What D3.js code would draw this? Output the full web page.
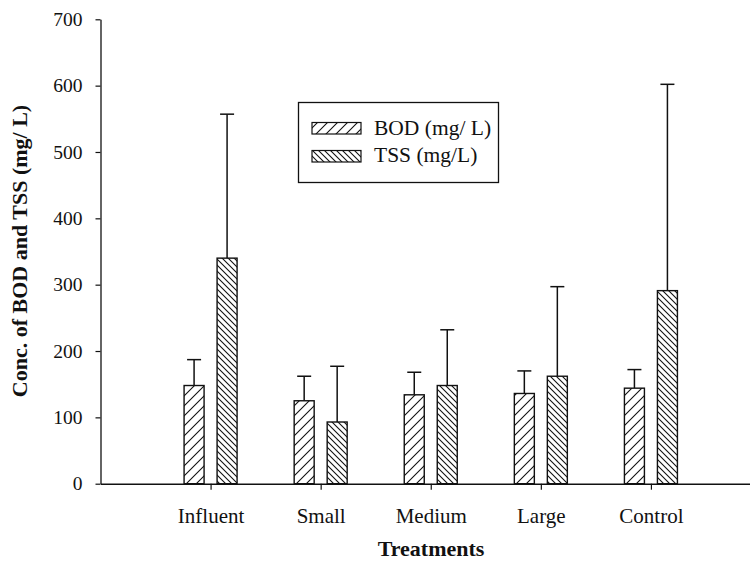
<!DOCTYPE html>
<html>
<head>
<meta charset="utf-8">
<script src="https://cdn.jsdelivr.net/npm/d3@7/dist/d3.min.js"></script>
<style>
  html, body { margin: 0; padding: 0; background: #fff; }
  svg { display: block; font-family: "Liberation Serif", "Times New Roman", serif; }
</style>
</head>
<body>
<svg id="chart" width="750" height="566"></svg>
<script>
// Treatments on the x axis
const categories = ["Influent", "Small", "Medium", "Large", "Control"];
// Mean concentrations (mg/L)
const bodMean = [148, 125, 134, 136, 144];
const tssMean = [340, 93, 148, 162, 291];
// Upper error bar extent (mean + SD), mg/L
const bodUpper = [187, 162, 168, 170, 172];
const tssUpper = [557, 177, 232, 297, 602];
// Y axis ticks
const yTicks = [0, 100, 200, 300, 400, 500, 600, 700];
const seriesNames = ["BOD (mg/ L)", "TSS (mg/L)"];

const svg = d3.select("#chart");
const ink = "#111";
const serif = "Liberation Serif, Times New Roman, serif";

// Hatch patterns: wide "/" for BOD, dense "\" for TSS
const defs = svg.append("defs");
const pBod = defs.append("pattern").attr("id", "hatchBod")
  .attr("patternUnits", "userSpaceOnUse").attr("width", 10).attr("height", 10);
pBod.append("path").attr("d", "M-1,11 L11,-1 M-6,6 L6,-6 M4,16 L16,4")
  .attr("stroke", ink).attr("stroke-width", 1.1);
const pTss = defs.append("pattern").attr("id", "hatchTss")
  .attr("patternUnits", "userSpaceOnUse").attr("width", 6).attr("height", 6);
pTss.append("path").attr("d", "M-1,-1 L7,7 M-4,2 L2,8 M4,-2 L10,4")
  .attr("stroke", ink).attr("stroke-width", 1.1);

// Scales
const y = d3.scaleLinear().domain([0, 700]).range([483.7, 19.3]);
const x = d3.scaleLinear().domain([0, 5.9]).range([100.5, 750]);
const barW = 20, half = 16.5;

// Y axis
const yAxis = d3.axisLeft(y).tickValues(yTicks).tickSize(5).tickPadding(13).tickSizeOuter(0);
const gy = svg.append("g").attr("transform", "translate(100.5,0)").call(yAxis);
gy.select(".domain").attr("stroke", ink).attr("stroke-width", 1.3);
gy.selectAll(".tick line").attr("stroke", ink).attr("stroke-width", 1.2);
gy.selectAll(".tick text").attr("font-size", 19.5).attr("fill", ink)
  .attr("font-family", serif);

// X axis
const xAxis = d3.axisBottom(x).tickValues(d3.range(1, 6))
  .tickFormat(i => categories[i - 1]).tickSize(6).tickPadding(18).tickSizeOuter(0);
const gx = svg.append("g").attr("transform", `translate(0,${y(0)})`).call(xAxis);
gx.select(".domain").attr("stroke", ink).attr("stroke-width", 1.6);
gx.selectAll(".tick line").attr("stroke", ink).attr("stroke-width", 1.2);
gx.selectAll(".tick text").attr("font-size", 21).attr("fill", ink)
  .attr("font-family", serif);

// Bars and error bars
const series = [
  { mean: bodMean, upper: bodUpper, offset: -half, fill: "url(#hatchBod)" },
  { mean: tssMean, upper: tssUpper, offset: half, fill: "url(#hatchTss)" }
];
series.forEach(s => {
  const g = svg.append("g");
  categories.forEach((c, i) => {
    const cx = x(i + 1) + s.offset;
    // whisker
    g.append("line").attr("x1", cx).attr("x2", cx)
      .attr("y1", y(s.mean[i])).attr("y2", y(s.upper[i]))
      .attr("stroke", ink).attr("stroke-width", 1.5);
    g.append("line").attr("x1", cx - 7).attr("x2", cx + 7)
      .attr("y1", y(s.upper[i])).attr("y2", y(s.upper[i]))
      .attr("stroke", ink).attr("stroke-width", 1.5);
    // bar
    g.append("rect").attr("x", cx - barW / 2).attr("y", y(s.mean[i]))
      .attr("width", barW).attr("height", y(0) - y(s.mean[i]))
      .attr("fill", "#fff").attr("stroke", "none");
    g.append("rect").attr("x", cx - barW / 2).attr("y", y(s.mean[i]))
      .attr("width", barW).attr("height", y(0) - y(s.mean[i]))
      .attr("fill", s.fill).attr("stroke", ink).attr("stroke-width", 1.4);
  });
});

// Legend
const lg = svg.append("g");
lg.append("rect").attr("x", 298.5).attr("y", 102.5).attr("width", 200).attr("height", 80)
  .attr("fill", "#fff").attr("stroke", ink).attr("stroke-width", 1.3);
[["url(#hatchBod)", 122.5, 135], ["url(#hatchTss)", 150.5, 162]].forEach((d, k) => {
  lg.append("rect").attr("x", 312).attr("y", d[1]).attr("width", 49).attr("height", 11.5)
    .attr("fill", d[0]).attr("stroke", ink).attr("stroke-width", 1.2);
  lg.append("text").attr("x", 374).attr("y", d[2]).attr("font-size", 21.5).attr("fill", ink)
    .attr("font-family", serif).text(seriesNames[k]);
});

// Axis titles
svg.append("text").attr("x", 431).attr("y", 556).attr("text-anchor", "middle")
  .attr("font-family", serif)
  .attr("font-size", 22).attr("font-weight", "bold").attr("fill", ink).text("Treatments");
svg.append("text").attr("transform", "translate(27,251) rotate(-90)").attr("text-anchor", "middle")
  .attr("font-family", serif)
  .attr("font-size", 22).attr("font-weight", "bold").attr("fill", ink)
  .text("Conc. of BOD and TSS (mg/ L)");
</script>
</body>
</html>
